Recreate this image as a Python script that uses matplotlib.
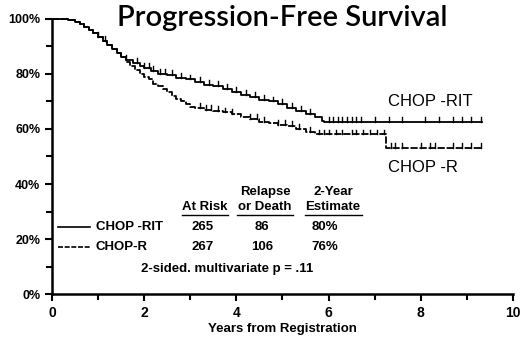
import matplotlib
matplotlib.use("Agg")
import matplotlib.pyplot as plt

# ---- data ----
rit_t = [0, 0.35, 0.5, 0.6, 0.7, 0.8, 0.9, 1.0, 1.1, 1.2, 1.3, 1.4, 1.5, 1.6, 1.75,
         1.9, 2.0, 2.15, 2.3, 2.5, 2.7, 2.9, 3.1, 3.3, 3.5, 3.7, 3.9, 4.1, 4.3,
         4.5, 4.7, 4.9, 5.1, 5.3, 5.5, 5.7, 5.85, 5.9, 9.33]
rit_s = [100, 99.5, 99, 98, 97, 96, 95, 93.5, 92, 90.5, 89, 87.5, 86, 85, 84,
         83, 82, 81, 80, 79.5, 78.5, 78, 77, 76, 75.5, 74.5, 73.5, 72.5, 71.5,
         70.5, 70, 69, 67.5, 66.5, 65.5, 64.5, 63, 62.5, 62.5]
rit_cens = [1.0, 1.15, 1.6, 1.85, 2.0, 2.1, 2.2, 2.35, 2.45, 2.6, 2.8, 3.0, 3.2,
            3.4, 3.6, 3.8, 4.0, 4.2, 4.4, 4.6, 4.8, 5.0, 5.2, 5.4, 5.6, 6.0, 6.1,
            6.2, 6.3, 6.4, 6.5, 6.6, 6.7, 7.0, 7.3, 7.6, 8.1, 8.4, 8.7, 8.9,
            9.1, 9.3]

r_t = [0, 0.35, 0.5, 0.6, 0.7, 0.8, 0.9, 1.0, 1.1, 1.2, 1.3, 1.4, 1.5, 1.6, 1.7,
       1.8, 1.9, 2.0, 2.1, 2.2, 2.3, 2.4, 2.5, 2.6, 2.7, 2.8, 2.9, 3.0, 3.1,
       3.3, 3.5, 3.7, 3.9, 4.1, 4.3, 4.5, 4.7, 4.9, 5.1, 5.3, 5.5, 5.7, 7.25,
       9.33]
r_s = [100, 99.5, 99, 98, 97, 96, 95, 93.5, 92, 90.5, 89, 87.5, 86, 84.5, 83,
       81.5, 80, 79, 78, 76.5, 75.5, 74.5, 73.5, 72, 71, 70, 69, 68, 67.5,
       67, 66.5, 66, 65.5, 64.5, 63.5, 62.5, 62, 61.5, 61, 60, 59, 58, 53, 53]
r_cens = [3.2, 3.35, 3.45, 3.6, 3.75, 3.9, 4.3, 4.45, 4.6, 4.9, 5.05, 5.2, 5.35,
          5.6, 5.8, 5.9, 6.0, 6.15, 6.3, 6.5, 6.6, 6.75, 6.9, 7.05, 7.2, 7.35,
          7.45, 7.6, 8.0, 8.2, 8.3, 8.7, 8.9, 9.1, 9.3]

arms = ["CHOP -RIT", "CHOP-R"]
at_risk = [265, 267]
events = [86, 106]
est2y = ["80%", "76%"]
p_text = "2-sided. multivariate p = .11"

yticks = [0, 20, 40, 60, 80, 100]
xticks = [0, 2, 4, 6, 8, 10]


def surv_at(ts, ss, x):
    v = ss[0]
    for t, s in zip(ts, ss):
        if t <= x:
            v = s
    return v


fig = plt.figure(figsize=(5.2, 3.38), dpi=100)
ax = fig.add_axes([0.1, 0.13, 0.8865, 0.814])
ax.set_xlim(0, 10)
ax.set_ylim(0, 100)

ax.step(r_t, r_s, where="post", color="black", lw=1.3, linestyle=(0, (4, 1)),
        clip_on=False)
ax.step(rit_t, rit_s, where="post", color="black", lw=1.3, clip_on=False)
for c in rit_cens:
    y = surv_at(rit_t, rit_s, c)
    ax.plot([c, c], [y, y + 1.8], color="black", lw=1.0)
for c in r_cens:
    y = surv_at(r_t, r_s, c)
    ax.plot([c, c], [y, y + 1.8], color="black", lw=1.0)

for s in ["top", "right"]:
    ax.spines[s].set_visible(False)
for s in ["left", "bottom"]:
    ax.spines[s].set_linewidth(1.8)

ax.set_yticks(yticks)
ax.set_yticklabels([f"{v}%" for v in yticks])
ax.set_yticks([10, 30, 50, 70, 90], minor=True)
ax.set_xticks(xticks)
ax.set_xticklabels([str(v) for v in xticks])
ax.set_xticks([1, 3, 5, 7, 9], minor=True)
ax.tick_params(axis="both", which="major", length=5, width=1.5, direction="out",
               labelsize=9)
ax.tick_params(axis="x", which="major", labelsize=10)
ax.tick_params(axis="both", which="minor", length=4, width=1.5, direction="out")
for lab in ax.get_xticklabels() + ax.get_yticklabels():
    lab.set_fontfamily("Liberation Sans")
    lab.set_fontweight("bold")
ax.set_xlabel("Years from Registration", fontsize=9.5, fontweight="bold",
              family="Liberation Sans", labelpad=2)

# curve labels
fig.text(388 / 520, 1 - 102 / 338, "CHOP -RIT", fontsize=12, family="Liberation Sans",
         ha="left", va="center")
fig.text(388 / 520, 1 - 167 / 338, "CHOP -R", fontsize=12, family="Liberation Sans",
         ha="left", va="center")

# title
fig.text(282 / 520, 1 - 18 / 338, "Progression-Free Survival", fontsize=21,
         family="Lato", fontweight="semibold", ha="center", va="center")

# table
tk = dict(fontsize=9.5, family="Liberation Sans", fontweight="bold")


def px(x, y):
    return x / 520, 1 - y / 338


fig.text(*px(205, 207), "At Risk", ha="center", va="center", **tk)
fig.text(*px(265, 192), "Relapse", ha="center", va="center", **tk)
fig.text(*px(265, 207), "or Death", ha="center", va="center", **tk)
fig.text(*px(333, 192), "2-Year", ha="center", va="center", **tk)
fig.text(*px(333, 207), "Estimate", ha="center", va="center", **tk)
for x0, x1 in [(182, 228), (237, 293), (305, 362)]:
    fig.add_artist(plt.Line2D([x0 / 520, x1 / 520], [1 - 215 / 338] * 2,
                              color="black", lw=1.0))

row_y = [227, 247]
styles = ["-", (0, (3, 1))]
for i in range(2):
    fig.add_artist(plt.Line2D([58 / 520, 90 / 520], [1 - row_y[i] / 338] * 2,
                              color="black", lw=1.2, linestyle=styles[i]))
    fig.text(*px(96, row_y[i]), arms[i], ha="left", va="center", **tk)
    fig.text(*px(203, row_y[i]), str(at_risk[i]), ha="center", va="center", **tk)
    fig.text(*px(262, row_y[i]), str(events[i]), ha="center", va="center", **tk)
    fig.text(*px(325, row_y[i]), est2y[i], ha="center", va="center", **tk)
fig.text(*px(227, 269), p_text, ha="center", va="center", **tk)

fig.savefig("out.png", dpi=100)
